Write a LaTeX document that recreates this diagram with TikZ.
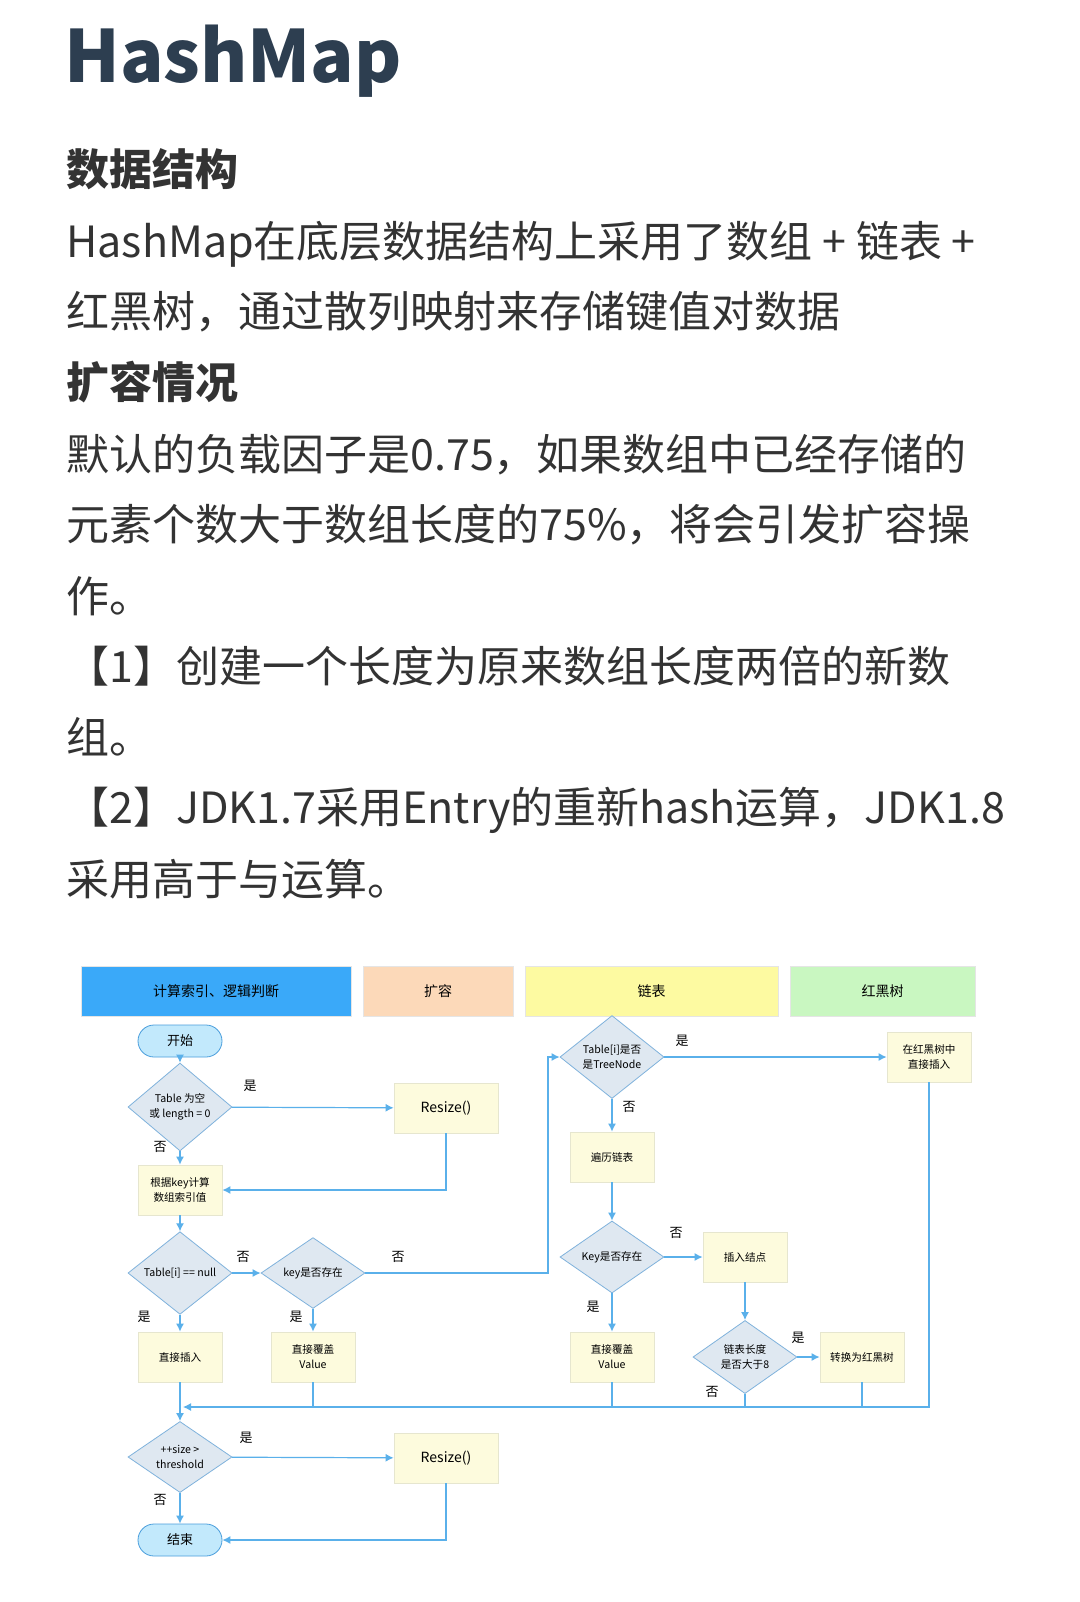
\documentclass[tikz,border=0pt]{standalone}
\usepackage{fontspec}
\setmainfont{Noto Sans CJK SC}
\usetikzlibrary{shapes.geometric,arrows.meta,positioning,calc}
\definecolor{titlecol}{HTML}{2D3E50}
\definecolor{bodycol}{HTML}{333333}
\definecolor{flowline}{HTML}{5AB0EA}
\definecolor{diafill}{HTML}{DFE8F1}
\definecolor{diaedge}{HTML}{7FB2DC}
\definecolor{boxfill}{HTML}{FDFBDD}
\definecolor{boxedge}{HTML}{E6E6CF}
\definecolor{termfill}{HTML}{C2E9FC}
\definecolor{termedge}{HTML}{4A9EDC}
\definecolor{laneblue}{HTML}{3AA9F9}
\definecolor{lanepeach}{HTML}{FCD9B9}
\definecolor{laneyellow}{HTML}{FDFAA1}
\definecolor{lanegreen}{HTML}{C9F7C1}
\tikzset{
  textline/.style={anchor=base west, inner sep=0, text=bodycol, font=\fontsize{21.5}{26}\selectfont},
  headline/.style={textline, font=\fontsize{21.5}{26}\selectfont\bfseries},
  lane/.style={draw=white!90!black, minimum height=25pt, font=\fontsize{7}{8}\selectfont},
  box/.style={draw=boxedge, fill=boxfill, minimum width=42pt, minimum height=25pt, align=center, inner sep=1pt, font=\fontsize{5.3}{7.5}\selectfont},
  bigbox/.style={box, minimum width=52pt, font=\fontsize{7}{8}\selectfont},
  dia/.style={diamond, draw=diaedge, fill=diafill, minimum width=52pt, minimum height=31pt, inner sep=0, align=center, font=\fontsize{5.3}{7.5}\selectfont},
  term/.style={draw=termedge, fill=termfill, rounded corners=8pt, minimum width=42pt, minimum height=16pt, font=\fontsize{6.5}{8}\selectfont},
  flow/.style={draw=flowline, line width=0.6pt, -{Latex[length=4pt,width=4pt]}},
  flowplain/.style={draw=flowline, line width=0.6pt},
  yn/.style={font=\fontsize{6.5}{8}\selectfont, inner sep=0}
}
\begin{document}
\begin{tikzpicture}[x=0.5pt,y=-0.5pt]
  \useasboundingbox (0,0) rectangle (1080,1602);
  \fill[white] (0,0) rectangle (1080,1602);

  % text part
  \node[anchor=base west, inner sep=0, text=titlecol, font=\fontsize{36}{40}\selectfont\bfseries] (title) at (64,82) {HashMap};
  \node[headline] (h1) at (66,185) {数据结构};
  \node[textline] (l1) at (66,257) {HashMap在底层数据结构上采用了数组 + 链表 +};
  \node[textline] (l2) at (66,327) {红黑树，通过散列映射来存储键值对数据};
  \node[headline] (h2) at (66,398) {扩容情况};
  \node[textline] (l3) at (66,470) {默认的负载因子是0.75，如果数组中已经存储的};
  \node[textline] (l4) at (66,540) {元素个数大于数组长度的75\%，将会引发扩容操};
  \node[textline] (l5) at (66,612) {作。};
  \node[textline] (l6) at (66,682) {【1】创建一个长度为原来数组长度两倍的新数};
  \node[textline] (l7) at (66,753) {组。};
  \node[textline] (l8) at (66,823) {【2】JDK1.7采用Entry的重新hash运算，JDK1.8};
  \node[textline] (l9) at (66,895) {采用高于与运算。};

  % swim lanes
  \node[lane, fill=laneblue, minimum width=135pt] (ln_calc) at (216,991) {计算索引、逻辑判断};
  \node[lane, fill=lanepeach, minimum width=75pt] (ln_resize) at (438,991) {扩容};
  \node[lane, fill=laneyellow, minimum width=126.5pt] (ln_list) at (651.5,991) {链表};
  \node[lane, fill=lanegreen, minimum width=92.5pt] (ln_tree) at (882.5,991) {红黑树};

  % nodes
  \node[term] (start) at (180,1041) {开始};
  \node[dia] (d_empty) at (180,1107) {Table 为空\\或 length = 0};
  \node[bigbox] (resize_a) at (446,1108) {Resize()};
  \node[box] (calc) at (180,1190) {根据key计算\\数组索引值};
  \node[dia] (d_null) at (180,1273) {Table[i] == null};
  \node[dia] (d_key) at (313,1273) {key是否存在};
  \node[box] (put) at (180,1357) {直接插入};
  \node[box] (over_a) at (313,1357) {直接覆盖\\Value};
  \node[dia] (d_tree) at (612,1057) {Table[i]是否\\是TreeNode};
  \node[box] (walk) at (612,1157) {遍历链表};
  \node[dia] (d_key2) at (612,1257) {Key是否存在};
  \node[box] (addnode) at (745,1257) {插入结点};
  \node[box] (over_b) at (612,1357) {直接覆盖\\Value};
  \node[dia] (d_len) at (745,1357) {链表长度\\是否大于8};
  \node[box] (totree) at (862,1357) {转换为红黑树};
  \node[box] (treeput) at (929,1057) {在红黑树中\\直接插入};
  \node[dia] (d_size) at (180,1457) {++size >\\threshold};
  \node[bigbox] (resize_b) at (446,1458) {Resize()};
  \node[term] (stop) at (180,1540) {结束};
  \coordinate (merge) at (183,1407);

  % connectors
  \draw[flow] (start) -- (d_empty);
  \draw[flow] (d_empty) -- (resize_a);
  \draw[flow] (d_empty) -- (calc);
  \draw[flow] (resize_a.south) |- (calc.east);
  \draw[flow] (calc) -- (d_null);
  \draw[flow] (d_null) -- (d_key);
  \draw[flow] (d_null) -- (put);
  \draw[flow] (d_key) -- (over_a);
  \draw[flow] (d_key.east) -| (548,1057) -- (d_tree.west);
  \draw[flow] (d_tree) -- (treeput);
  \draw[flow] (d_tree) -- (walk);
  \draw[flow] (walk) -- (d_key2);
  \draw[flow] (d_key2) -- (addnode);
  \draw[flow] (d_key2) -- (over_b);
  \draw[flow] (addnode) -- (d_len);
  \draw[flow] (d_len) -- (totree);
  \draw[flow] (treeput.south) |- (merge);
  \draw[flowplain] (over_a.south) -- (over_a.south |- merge);
  \draw[flowplain] (over_b.south) -- (over_b.south |- merge);
  \draw[flowplain] (d_len.south) -- (d_len.south |- merge);
  \draw[flowplain] (totree.south) -- (totree.south |- merge);
  \draw[flow] (put) -- (d_size);
  \draw[flow] (d_size) -- (resize_b);
  \draw[flow] (d_size) -- (stop);
  \draw[flow] (resize_b.south) |- (stop.east);

  % yes / no labels
  \node[yn] (y1) at (250,1086) {是};
  \node[yn] (n1) at (160,1147) {否};
  \node[yn] (n2) at (243,1257) {否};
  \node[yn] (y2) at (144,1317) {是};
  \node[yn] (y3) at (296,1317) {是};
  \node[yn] (n3) at (398,1257) {否};
  \node[yn] (y4) at (682,1041) {是};
  \node[yn] (n4) at (629,1107) {否};
  \node[yn] (n5) at (676,1233) {否};
  \node[yn] (y5) at (593,1307) {是};
  \node[yn] (y6) at (798,1338) {是};
  \node[yn] (n6) at (712,1392) {否};
  \node[yn] (y7) at (246,1438) {是};
  \node[yn] (n7) at (160,1500) {否};
\end{tikzpicture}
\end{document}
